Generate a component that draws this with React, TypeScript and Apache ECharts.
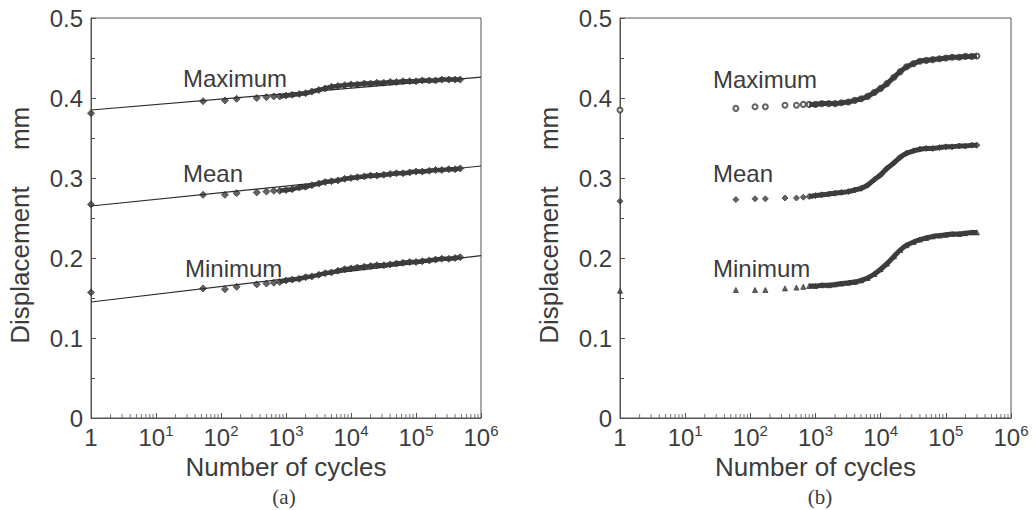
import React, { useEffect, useRef } from "react";
import * as echarts from "echarts";

// ---------- Data: panel (a) ----------
const cyclesA = [1, 53, 115, 174, 355, 500, 650, 800, 1000, 1250, 1600, 2000, 2500, 3200, 4000, 5000, 6300, 8000, 10000, 12500, 16000, 20000, 25000, 32000, 40000, 50000, 63000, 80000, 100000, 125000, 160000, 200000, 250000, 320000, 400000, 480000];
const maxA = [0.381, 0.396, 0.397, 0.399, 0.4, 0.401, 0.402, 0.402, 0.403, 0.404, 0.405, 0.406, 0.408, 0.41, 0.412, 0.414, 0.415, 0.416, 0.417, 0.417, 0.418, 0.418, 0.419, 0.419, 0.42, 0.42, 0.421, 0.421, 0.421, 0.422, 0.422, 0.422, 0.423, 0.423, 0.423, 0.423];
const meanA = [0.267, 0.279, 0.279, 0.281, 0.282, 0.283, 0.284, 0.284, 0.285, 0.286, 0.288, 0.289, 0.291, 0.293, 0.295, 0.296, 0.297, 0.299, 0.3, 0.301, 0.302, 0.303, 0.303, 0.304, 0.305, 0.306, 0.306, 0.307, 0.308, 0.308, 0.309, 0.31, 0.31, 0.311, 0.311, 0.312];
const minA = [0.157, 0.162, 0.161, 0.164, 0.167, 0.168, 0.169, 0.17, 0.172, 0.173, 0.174, 0.176, 0.177, 0.179, 0.181, 0.182, 0.184, 0.186, 0.187, 0.188, 0.189, 0.19, 0.191, 0.191, 0.192, 0.193, 0.194, 0.195, 0.195, 0.196, 0.197, 0.198, 0.199, 0.199, 0.2, 0.201];
// fitted straight lines (log-linear) in panel (a)
const fitCycles = [1, 1000000];
const fitMaxA = [0.385, 0.426];
const fitMeanA = [0.265, 0.315];
const fitMinA = [0.145, 0.203];

// ---------- Data: panel (b) ----------
const cyclesB = [1, 60, 118, 170, 340, 510, 650, 800, 1000, 1250, 1600, 2000, 2500, 3200, 4000, 5000, 6300, 8000, 10000, 12500, 16000, 20000, 25000, 32000, 40000, 50000, 63000, 80000, 100000, 125000, 160000, 200000, 250000, 300000];
const maxB = [0.385, 0.387, 0.389, 0.389, 0.391, 0.391, 0.392, 0.392, 0.392, 0.393, 0.393, 0.393, 0.394, 0.395, 0.397, 0.399, 0.402, 0.407, 0.412, 0.418, 0.426, 0.433, 0.439, 0.443, 0.446, 0.447, 0.448, 0.449, 0.45, 0.451, 0.451, 0.452, 0.452, 0.4525];
const meanB = [0.271, 0.273, 0.274, 0.274, 0.275, 0.275, 0.276, 0.277, 0.278, 0.279, 0.28, 0.281, 0.282, 0.283, 0.285, 0.287, 0.291, 0.298, 0.304, 0.312, 0.319, 0.326, 0.331, 0.334, 0.336, 0.337, 0.337, 0.338, 0.339, 0.339, 0.34, 0.34, 0.341, 0.341];
const minB = [0.159, 0.16, 0.16, 0.16, 0.162, 0.163, 0.164, 0.165, 0.165, 0.166, 0.166, 0.167, 0.168, 0.169, 0.17, 0.172, 0.175, 0.18, 0.186, 0.193, 0.202, 0.21, 0.216, 0.22, 0.223, 0.225, 0.227, 0.228, 0.229, 0.23, 0.23, 0.231, 0.232, 0.232];

// ---------- Labels ----------
const curveLabels = ["Maximum", "Mean", "Minimum"];
const panelCaptions = ["(a)", "(b)"];
const xAxisTitle = "Number of cycles";
const yAxisTitle = "Displacement     mm  ";

const FONT = "'Liberation Sans', Arial, Helvetica, sans-serif";
const INK = "#3c3c3c";
const AXIS = "#555";

const minorTickValues: number[] = [];
for (let d = 0; d < 6; d++) for (let k = 2; k <= 9; k++) minorTickValues.push(k * Math.pow(10, d));

const pairs = (xs: number[], ys: number[], from = 0) =>
  xs.slice(from).map((x, i) => [x, ys[i + from]]);

export default function App() {
  const ref = useRef<HTMLDivElement>(null);
  useEffect(() => {
    document.body.style.margin = "0";
    const chart = echarts.init(ref.current!, undefined, { renderer: "svg" });

    const grids = [
      { left: 91, top: 18, width: 390, height: 400 },
      { left: 620, top: 18, width: 391, height: 400 },
    ].map((g) => ({ ...g, show: true, borderColor: AXIS, borderWidth: 1, backgroundColor: "transparent" }));

    const xAxes = [0, 1].map((i) => ({
      type: "log",
      logBase: 10,
      gridIndex: i,
      min: 1,
      max: 1000000,
      name: xAxisTitle,
      nameLocation: "middle",
      nameGap: 33,
      nameTextStyle: { fontSize: 26, color: INK, fontFamily: FONT },
      axisLine: { lineStyle: { color: AXIS, width: 1 } },
      axisTick: { inside: true, length: 5, lineStyle: { color: AXIS } },
      splitLine: { show: false },
      axisLabel: {
        margin: 5,
        color: INK,
        fontFamily: FONT,
        formatter: (v: number) => {
          const e = Math.round(Math.log10(v));
          return e === 0 ? "{b|1}" : `{b|10}{s|${e}}`;
        },
        rich: {
          b: { fontSize: 24, lineHeight: 28, fontFamily: FONT, color: INK },
          s: { fontSize: 15, lineHeight: 15, verticalAlign: "top", fontFamily: FONT, color: INK },
        },
      },
    }));

    const yAxes = [0, 1].map((i) => ({
      type: "value",
      gridIndex: i,
      min: 0,
      max: 0.5,
      interval: 0.1,
      name: yAxisTitle,
      nameLocation: "middle",
      nameGap: 58,
      nameTextStyle: { fontSize: 26, color: INK, fontFamily: FONT },
      axisLine: { show: true, lineStyle: { color: AXIS, width: 1 } },
      axisTick: { inside: true, length: 5, lineStyle: { color: AXIS } },
      minorTick: { show: true, splitNumber: 2, length: 4, lineStyle: { color: AXIS } },
      splitLine: { show: false },
      axisLabel: {
        margin: 8,
        fontSize: 24,
        color: INK,
        fontFamily: FONT,
        formatter: (v: number) => (v === 0 ? "0" : v.toFixed(1)),
      },
    }));

    const scatter = (gi: number, xs: number[], ys: number[], symbol: string, size = 6) => ({
      type: "scatter",
      xAxisIndex: gi,
      yAxisIndex: gi,
      data: pairs(xs, ys),
      symbol,
      symbolSize: size,
      itemStyle: { color: INK, borderColor: INK, borderWidth: 1 },
      silent: true,
    });
    const band = (gi: number, xs: number[], ys: number[], from: number, width = 3.5) => ({
      type: "line",
      xAxisIndex: gi,
      yAxisIndex: gi,
      data: pairs(xs, ys, from),
      showSymbol: false,
      smooth: 0.3,
      lineStyle: { color: INK, width },
      silent: true,
    });
    const fit = (ys: number[]) => ({
      type: "line",
      xAxisIndex: 0,
      yAxisIndex: 0,
      data: pairs(fitCycles, ys),
      showSymbol: false,
      lineStyle: { color: "#2a2a2a", width: 1.2 },
      silent: true,
    });
    const minorTicks = (gi: number) => ({
      type: "scatter",
      xAxisIndex: gi,
      yAxisIndex: gi,
      data: minorTickValues.map((v) => [v, 0]),
      symbol: "rect",
      symbolSize: [1, 4],
      symbolOffset: [0, -2],
      itemStyle: { color: AXIS },
      clip: false,
      silent: true,
    });

    const series: any[] = [
      fit(fitMaxA),
      fit(fitMeanA),
      fit(fitMinA),
      band(0, cyclesA, maxA, 7, 4.5),
      band(0, cyclesA, meanA, 7, 4.5),
      band(0, cyclesA, minA, 7, 4.5),
      scatter(0, cyclesA, maxA, "diamond", 7),
      scatter(0, cyclesA, meanA, "diamond", 7),
      scatter(0, cyclesA, minA, "diamond", 7),
      band(1, cyclesB, maxB, 7, 5),
      band(1, cyclesB, meanB, 7, 5),
      band(1, cyclesB, minB, 7, 5),
      scatter(1, cyclesB, maxB, "emptyCircle", 5),
      scatter(1, cyclesB, meanB, "diamond", 6),
      scatter(1, cyclesB, minB, "triangle", 5),
      minorTicks(0),
      minorTicks(1),
    ];

    const labelPos = [
      [183, 78],
      [183, 173],
      [185, 268],
    ];
    const labelPosB = [
      [713, 79],
      [713, 173],
      [713, 268],
    ];
    const graphic: any[] = [];
    curveLabels.forEach((t, i) => {
      [labelPos[i], labelPosB[i]].forEach((p) =>
        graphic.push({
          type: "text",
          x: p[0],
          y: p[1],
          silent: true,
          style: { text: t, fill: INK, font: `24px ${FONT}`, verticalAlign: "middle", align: "left" },
        })
      );
    });
    [[284, 497], [820, 497]].forEach((p, i) =>
      graphic.push({
        type: "text",
        x: p[0],
        y: p[1],
        silent: true,
        style: { text: panelCaptions[i], fill: INK, font: `21px 'Liberation Serif', 'DejaVu Serif', serif`, verticalAlign: "middle", align: "center" },
      })
    );

    chart.setOption({
      animation: false,
      backgroundColor: "#fff",
      grid: grids,
      xAxis: xAxes,
      yAxis: yAxes,
      series,
      graphic,
    });
    return () => chart.dispose();
  }, []);
  return <div ref={ref} style={{ width: 1036, height: 510 }} />;
}
